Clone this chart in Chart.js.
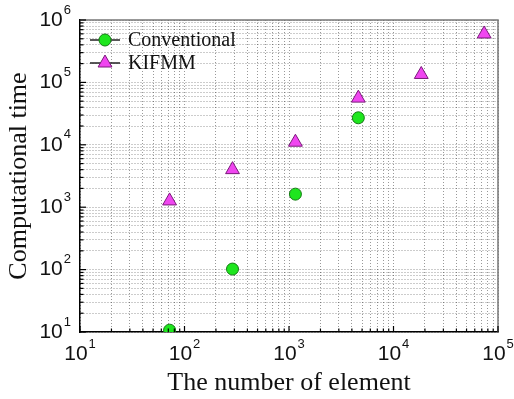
<!DOCTYPE html>
<html>
<head>
<meta charset="utf-8">
<script src="https://cdn.jsdelivr.net/npm/chart.js@4/dist/chart.umd.min.js"></script>
<style>
  body { margin: 0; background: #fff; }
  canvas { display: block; }
</style>
</head>
<body>
<canvas id="chart" width="514" height="399"></canvas>
<script>
// data
const elements = [72, 288, 1152, 4608, 18432, 73728];
const conventional = [10.7, 102, 1620, 27100];
const kifmm = [1260, 4000, 11000, 56000, 134000, 597000];
const seriesNames = ['Conventional', 'KIFMM'];

// tick labels (powers of ten)
const xExps = [1, 2, 3, 4, 5];
const yExps = [1, 2, 3, 4, 5, 6];

const xTitle = 'The number of element';
const yTitle = 'Computational time';

const serif = '"Liberation Serif", "Times New Roman", serif';
const sans = '"Liberation Sans", Arial, sans-serif';

function points(xs, ys) {
    return ys.map((y, i) => ({ x: xs[i], y: y }));
}

// 1..9 x 10^n between first and last decade
function logTicks(exps) {
    const out = [];
    for (let e = exps[0]; e < exps[exps.length - 1]; e++) {
        for (let s = 1; s <= 9; s++) out.push({ value: s * Math.pow(10, e) });
    }
    out.push({ value: Math.pow(10, exps[exps.length - 1]) });
    return out;
}

function drawPow(ctx, exp, x, y, align) {
    ctx.font = '21px ' + sans;
    const wb = ctx.measureText('10').width;
    ctx.font = '13px ' + sans;
    const we = ctx.measureText(String(exp)).width;
    const w = wb + 1 + we;
    let x0 = align === 'center' ? x - w / 2 : x - w;
    ctx.fillStyle = '#111';
    ctx.textBaseline = 'middle';
    ctx.textAlign = 'left';
    ctx.font = '21px ' + sans;
    ctx.fillText('10', x0, y);
    ctx.font = '13px ' + sans;
    ctx.fillText(String(exp), x0 + wb + 1, y - 10);
}

const decor = {
    id: 'decor',
    afterDraw(chart) {
        const ctx = chart.ctx;
        const a = chart.chartArea;
        const xs = chart.scales.x, ys = chart.scales.y;
        ctx.save();

        // frame top/right
        ctx.strokeStyle = '#777';
        ctx.lineWidth = 1.5;
        ctx.beginPath();
        ctx.moveTo(a.left, a.top);
        ctx.lineTo(a.right, a.top);
        ctx.lineTo(a.right, a.bottom);
        ctx.stroke();

        // inward ticks on bottom and left
        ctx.strokeStyle = '#000';
        ctx.lineWidth = 1.2;
        xs.ticks.forEach(t => {
            const p = xs.getPixelForValue(t.value);
            const len = Number.isInteger(Math.round(Math.log10(t.value) * 1e6) / 1e6) ? 6 : 3.5;
            ctx.beginPath();
            ctx.moveTo(p, a.bottom);
            ctx.lineTo(p, a.bottom - len);
            ctx.stroke();
        });
        ys.ticks.forEach(t => {
            const p = ys.getPixelForValue(t.value);
            const len = Number.isInteger(Math.round(Math.log10(t.value) * 1e6) / 1e6) ? 6 : 3.5;
            ctx.beginPath();
            ctx.moveTo(a.left, p);
            ctx.lineTo(a.left + len, p);
            ctx.stroke();
        });

        // tick labels
        xExps.forEach(e => drawPow(ctx, e, xs.getPixelForValue(Math.pow(10, e)), a.bottom + 22, 'center'));
        yExps.forEach(e => drawPow(ctx, e, a.left - 9, ys.getPixelForValue(Math.pow(10, e)), 'right'));

        // legend inside plot, top left
        chart.data.datasets.forEach((ds, i) => {
            const ly = a.top + 20 + i * 23;
            const lx = a.left + 10;
            ctx.strokeStyle = '#222';
            ctx.lineWidth = 1.5;
            ctx.beginPath();
            ctx.moveTo(lx, ly);
            ctx.lineTo(lx + 30, ly);
            ctx.stroke();
            ctx.fillStyle = ds.backgroundColor;
            ctx.strokeStyle = ds.borderColor;
            ctx.lineWidth = ds.borderWidth;
            Chart.helpers.drawPoint(ctx, {
                pointStyle: ds.pointStyle, radius: ds.pointRadius,
                borderWidth: ds.borderWidth, rotation: 0
            }, lx + 15, ly);
            ctx.fillStyle = '#111';
            ctx.font = '20px ' + serif;
            ctx.textAlign = 'left';
            ctx.textBaseline = 'middle';
            ctx.fillText(ds.label, lx + 38, ly + 1);
        });
        ctx.restore();
    }
};

const config = {
    type: 'scatter',
    data: {
        datasets: [{
            label: seriesNames[0],
            data: points(elements, conventional),
            pointStyle: 'circle',
            pointRadius: 6,
            pointHoverRadius: 6,
            backgroundColor: '#1ee61e',
            borderColor: '#137a13',
            borderWidth: 1
        }, {
            label: seriesNames[1],
            data: points(elements, kifmm),
            pointStyle: 'triangle',
            pointRadius: 8,
            pointHoverRadius: 8,
            backgroundColor: '#f046f0',
            borderColor: '#7a1a7a',
            borderWidth: 1
        }]
    },
    options: {
        responsive: false,
        animation: false,
        devicePixelRatio: 1,
        layout: { padding: { top: 20, right: 16, left: 0, bottom: 0 } },
        plugins: { legend: { display: false }, tooltip: { enabled: false } },
        scales: {
            x: {
                type: 'logarithmic',
                min: Math.pow(10, xExps[0]),
                max: Math.pow(10, xExps[xExps.length - 1]),
                afterBuildTicks: s => { s.ticks = logTicks(xExps); },
                afterFit: s => { s.height = 67; },
                ticks: { display: false },
                grid: { color: 'rgba(0,0,0,0.4)', drawTicks: false, lineWidth: 1 },
                border: { display: true, color: '#000', width: 1.5, dash: [1, 2] },
                title: { display: true, text: xTitle, font: { family: serif, size: 26 }, color: '#111', padding: 0 }
            },
            y: {
                type: 'logarithmic',
                min: Math.pow(10, yExps[0]),
                max: Math.pow(10, yExps[yExps.length - 1]),
                afterBuildTicks: s => { s.ticks = logTicks(yExps); },
                afterFit: s => { s.width = 80; },
                ticks: { display: false },
                grid: { color: 'rgba(0,0,0,0.4)', drawTicks: false, lineWidth: 1 },
                border: { display: true, color: '#000', width: 1.5, dash: [1, 2] },
                title: { display: true, text: yTitle, font: { family: serif, size: 26 }, color: '#111', padding: { top: 4, bottom: 0 } }
            }
        }
    },
    plugins: [decor]
};

var scatterChart = new Chart(document.getElementById('chart'), config);
</script>
</body>
</html>
